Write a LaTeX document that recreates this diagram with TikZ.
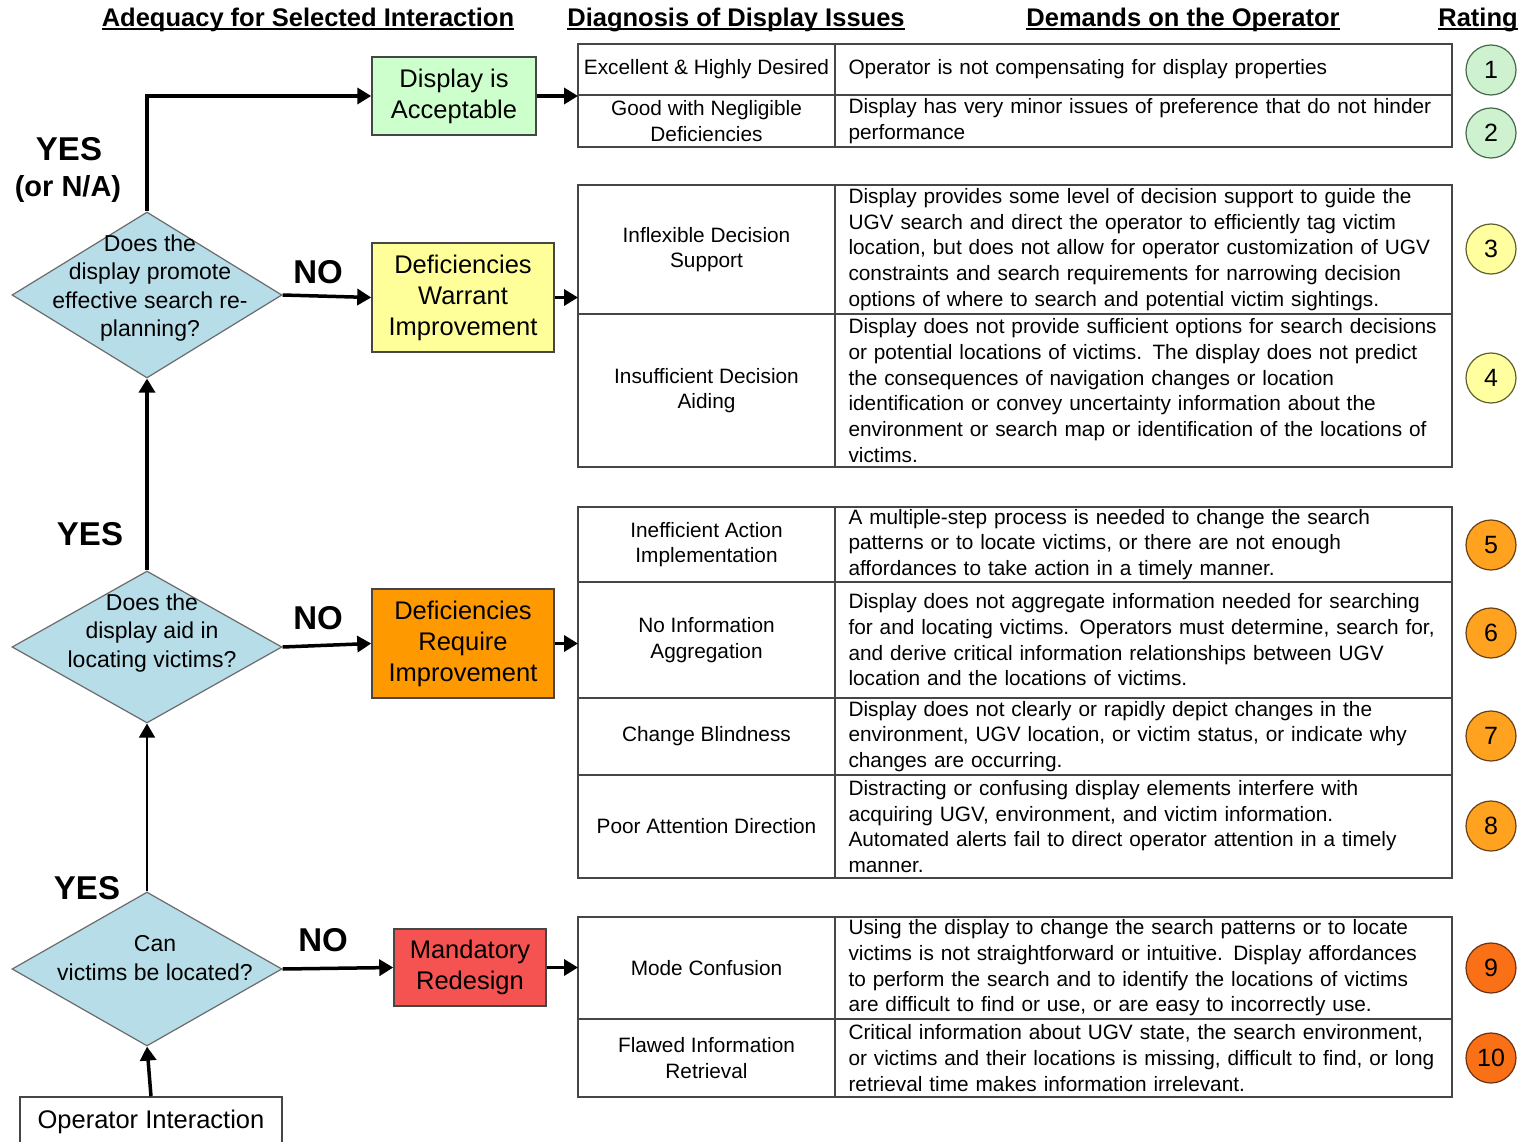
\documentclass[tikz,border=0pt]{standalone}
\usepackage{fontspec}
\setmainfont{Liberation Sans}
\usepackage{tikz}
\usetikzlibrary{shapes.geometric, arrows.meta, positioning}
\definecolor{okgreen}{RGB}{204,255,204}
\definecolor{warnyellow}{RGB}{255,255,153}
\definecolor{reqorange}{RGB}{255,153,0}
\definecolor{redesignred}{RGB}{245,82,82}
\definecolor{qblue}{RGB}{183,221,232}
\definecolor{boxline}{RGB}{70,70,70}
\definecolor{rgreen}{RGB}{206,242,208}
\definecolor{rgreenline}{RGB}{70,105,75}
\definecolor{ryellow}{RGB}{255,255,160}
\definecolor{ryellowline}{RGB}{95,95,45}
\definecolor{rorange}{RGB}{255,162,32}
\definecolor{rorangeline}{RGB}{105,65,20}
\definecolor{rred}{RGB}{250,112,22}
\definecolor{rredline}{RGB}{105,50,20}
\newcommand\tabfont{\fontsize{20.8}{25.7}\selectfont}
\newcommand\ulbox[1]{\setbox0\hbox{#1}\rlap{\rule[-3.5pt]{\wd0}{2pt}}\box0}
\tikzset{
    box/.style={rectangle, draw=boxline, line width=1.5pt, align=center, inner sep=0pt, font=\fontsize{25.5}{31}\selectfont},
    question/.style={diamond, draw=boxline!80, line width=1.2pt, fill=qblue, inner sep=0pt, minimum width=270pt},
    qtext/.style={align=center, font=\fontsize{23}{28.5}\selectfont},
    answer/.style={font=\bfseries\fontsize{33}{38}\selectfont},
    heading/.style={font=\bfseries\fontsize{25.5}{30}\selectfont},
    issue/.style={rectangle, draw=boxline, line width=1.5pt, outer sep=0pt, minimum width=257pt, inner sep=0pt, align=center, font=\tabfont},
    demand/.style={rectangle, draw=boxline, line width=1.5pt, outer sep=0pt, minimum width=617pt, text width=590pt, inner xsep=13.5pt, inner ysep=0pt, align=left, font=\tabfont},
    rating/.style={circle, line width=1.2pt, minimum size=50pt, inner sep=0pt, font=\fontsize{25}{30}\selectfont},
    arrow/.style={line width=3.5pt, -{Triangle[length=14pt,width=16pt]}},
    thinarrow/.style={line width=1.5pt, -{Triangle[length=14pt,width=16pt]}}
}
\begin{document}
\begin{tikzpicture}[x=1pt, y=-1pt]
    \useasboundingbox (0,0) rectangle (1524,1142);
    % Headings
    \node (hadequacy) [heading] at (308,20) {\ulbox{Adequacy for Selected Interaction}};
    \node (hdiagnosis) [heading] at (736,20) {\ulbox{Diagnosis of Display Issues}};
    \node (hdemands) [heading] at (1183,20) {\ulbox{Demands on the Operator}};
    \node (hrating) [heading] at (1478,20) {\ulbox{Rating}};
    % Questions
    \node (q1) [question, minimum height=166pt] at (147,295) {};
    \node (q1txt) [qtext] at (150,288) {Does the\\display promote\\effective search re-\\planning?};
    \node (q2) [question, minimum height=152pt] at (147,647) {};
    \node (q2txt) [qtext] at (152,633) {Does the\\display aid in\\locating victims?};
    \node (q3) [question, minimum height=154pt] at (147,969) {};
    \node (q3txt) [qtext] at (155,958) {Can\\victims be located?};
    \node (opint) [box, fill=white, minimum width=262pt, minimum height=50pt] at (151,1122) {Operator Interaction};
    % Outcomes
    \node (okbox) [box, fill=okgreen, minimum width=164pt, minimum height=78pt] at (454,96) {Display is\\Acceptable};
    \node (warrant) [box, fill=warnyellow, minimum width=182pt, minimum height=109pt] at (463,297.5) {Deficiencies\\Warrant\\Improvement};
    \node (require) [box, fill=reqorange, minimum width=182pt, minimum height=109pt] at (463,643.5) {Deficiencies\\Require\\Improvement};
    \node (redesign) [box, fill=redesignred, minimum width=152pt, minimum height=77pt] at (470,967.5) {Mandatory\\Redesign};
    % Answers
    \node (yes1) [answer] at (69,149) {YES};
    \node (na1) [font=\bfseries\fontsize{29}{34}\selectfont] at (68,189) {(or N/A)};
    \node (no1) [answer] at (318,272) {NO};
    \node (yes2) [answer] at (90,534) {YES};
    \node (no2) [answer] at (318,618) {NO};
    \node (yes3) [answer] at (87,888) {YES};
    \node (no3) [answer] at (323,940) {NO};
    % Table: acceptable
    \node (excellent) [issue, minimum height=51pt, anchor=north west] at (578,44) {Excellent \& Highly Desired};
    \node (compensate) [demand, minimum height=51pt, right=0pt of excellent] {Operator is not compensating for display properties};
    \node (negligible) [issue, minimum height=52pt, below=0pt of excellent] {Good with Negligible\\Deficiencies};
    \node (preference) [demand, minimum height=52pt, right=0pt of negligible] {Display has very minor issues of preference that do not hinder\\performance};
    % Table: warrant improvement
    \node (inflexible) [issue, minimum height=129pt, anchor=north west] at (578,185) {Inflexible Decision\\Support};
    \node (support) [demand, minimum height=129pt, right=0pt of inflexible] {Display provides some level of decision support to guide the\\UGV search and direct the operator to efficiently tag victim\\location, but does not allow for operator customization of UGV\\constraints and search requirements for narrowing decision\\options of where to search and potential victim sightings.};
    \node (insufficient) [issue, minimum height=153pt, below=0pt of inflexible] {Insufficient Decision\\Aiding};
    \node (aiding) [demand, minimum height=153pt, right=0pt of insufficient] {Display does not provide sufficient options for search decisions\\or potential locations of victims. The display does not predict\\the consequences of navigation changes or location\\identification or convey uncertainty information about the\\environment or search map or identification of the locations of\\victims.};
    % Table: require improvement
    \node (inefficient) [issue, minimum height=75pt, anchor=north west] at (578,507) {Inefficient Action\\Implementation};
    \node (multistep) [demand, minimum height=75pt, right=0pt of inefficient] {A multiple-step process is needed to change the search\\patterns or to locate victims, or there are not enough\\affordances to take action in a timely manner.};
    \node (noinfo) [issue, minimum height=116pt, below=0pt of inefficient] {No Information\\Aggregation};
    \node (aggregate) [demand, minimum height=116pt, right=0pt of noinfo] {Display does not aggregate information needed for searching\\for and locating victims. Operators must determine, search for,\\and derive critical information relationships between UGV\\location and the locations of victims.};
    \node (blindness) [issue, minimum height=77pt, below=0pt of noinfo] {Change Blindness};
    \node (depict) [demand, minimum height=77pt, right=0pt of blindness] {Display does not clearly or rapidly depict changes in the\\environment, UGV location, or victim status, or indicate why\\changes are occurring.};
    \node (attention) [issue, minimum height=103pt, below=0pt of blindness] {Poor Attention Direction};
    \node (distract) [demand, minimum height=103pt, right=0pt of attention] {Distracting or confusing display elements interfere with\\acquiring UGV, environment, and victim information.\\Automated alerts fail to direct operator attention in a timely\\manner.};
    % Table: redesign
    \node (modeconf) [issue, minimum height=102pt, anchor=north west] at (578,917) {Mode Confusion};
    \node (straight) [demand, minimum height=102pt, right=0pt of modeconf] {Using the display to change the search patterns or to locate\\victims is not straightforward or intuitive. Display affordances\\to perform the search and to identify the locations of victims\\are difficult to find or use, or are easy to incorrectly use.};
    \node (flawed) [issue, minimum height=78pt, below=0pt of modeconf] {Flawed Information\\Retrieval};
    \node (retrieval) [demand, minimum height=78pt, right=0pt of flawed] {Critical information about UGV state, the search environment,\\or victims and their locations is missing, difficult to find, or long\\retrieval time makes information irrelevant.};
    % Ratings
    \node (r1) [rating, fill=rgreen, draw=rgreenline] at (1491,70) {1};
    \node (r2) [rating, fill=rgreen, draw=rgreenline] at (1491,133) {2};
    \node (r3) [rating, fill=ryellow, draw=ryellowline] at (1491,249) {3};
    \node (r4) [rating, fill=ryellow, draw=ryellowline] at (1491,378) {4};
    \node (r5) [rating, fill=rorange, draw=rorangeline] at (1491,545) {5};
    \node (r6) [rating, fill=rorange, draw=rorangeline] at (1491,633) {6};
    \node (r7) [rating, fill=rorange, draw=rorangeline] at (1491,736) {7};
    \node (r8) [rating, fill=rorange, draw=rorangeline] at (1491,826) {8};
    \node (r9) [rating, fill=rred, draw=rredline] at (1491,968) {9};
    \node (r10) [rating, fill=rred, draw=rredline] at (1491,1058) {10};
    % Arrows
    \draw [arrow] (opint.north) -- (q3.south);
    \draw [thinarrow] (q3.north) -- (q2.south);
    \draw [arrow] (q2.north) -- (q1.south);
    \draw [arrow] (q1.north) |- (okbox.west);
    \draw [arrow] (q1.east) -- (warrant.west);
    \draw [arrow] (q2.east) -- (require.west);
    \draw [arrow] (q3.east) -- (redesign.west);
    \draw [arrow] (okbox.east) -- (okbox.east -| excellent.west);
    \draw [arrow] (warrant.east) -- (warrant.east -| inflexible.west);
    \draw [arrow] (require.east) -- (require.east -| noinfo.west);
    \draw [arrow] (redesign.east) -- (redesign.east -| modeconf.west);
\end{tikzpicture}
\end{document}
